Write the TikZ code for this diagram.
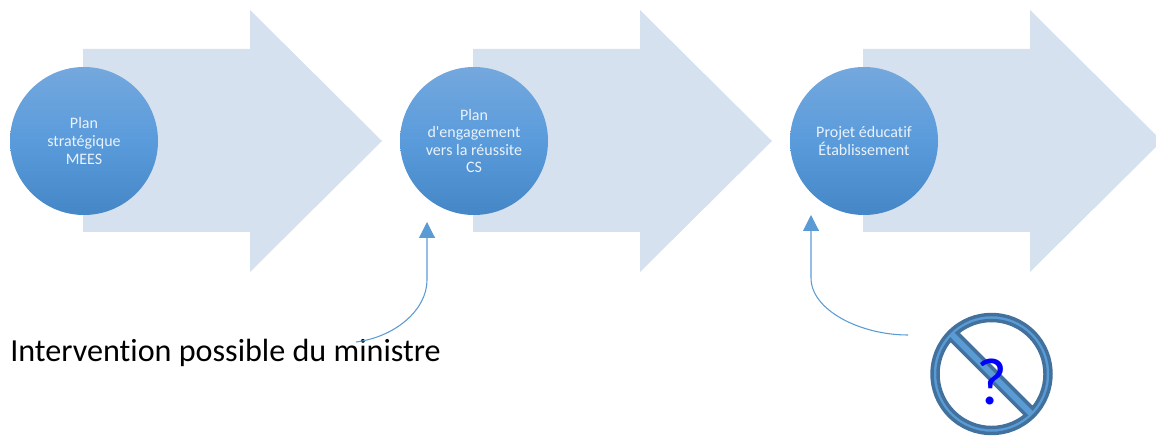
\documentclass[tikz,border=0pt]{standalone}
\usepackage{fontspec}
\setmainfont[Ligatures=CommonOff]{Carlito}
\usetikzlibrary{arrows.meta}
\definecolor{flecheBleu}{HTML}{D5E1EF}
\definecolor{haut}{HTML}{74A8DD}
\definecolor{milieu}{HTML}{5A9BDC}
\definecolor{bas}{HTML}{4486C6}
\definecolor{trait}{HTML}{5B9BD5}
\definecolor{bord}{HTML}{41719C}
\definecolor{texte}{HTML}{EAF2FA}
\tikzset{
  etape/.style={circle,minimum size=111pt,inner sep=0pt,top color=haut,bottom color=bas,middle color=milieu,
    text=texte,font=\fontsize{12}{13.2}\selectfont,align=center},
  lien/.style={trait,line width=0.8pt,-{Triangle[width=12pt,length=12pt]}}
}
\begin{document}
\begin{tikzpicture}[x=0.75pt,y=0.75pt]
    \useasboundingbox (0,0) rectangle (1156,436);
    \clip (0,0) rectangle (1156,436);
    % grandes fleches
    \foreach \d in {0,390,780}
        \fill[flecheBleu,shift={(\d,0)}] (83,387) -- (250,387) -- (250,426) -- (382,295)
            -- (250,164) -- (250,204) -- (83,204) -- cycle;

    \node[etape] (mees) at (84,295) {Plan\\stratégique\\MEES};
    \node[etape] (cs) at (474,295) {Plan\\d\textquotesingle engagement\\vers la réussite\\CS};
    \node[etape] (projet) at (864,295) {Projet éducatif\\Établissement};

    \node[anchor=west,inner sep=0pt,font=\fontsize{24.1}{28}\selectfont] (ministre) at (10,83) {Intervention possible du ministre};

    % fleches courbes
    \coordinate (depart1) at (356,94);
    \coordinate (coude1) at (427,156);
    \coordinate (pointe1) at (427,214);
    \coordinate (depart2) at (908,101);
    \coordinate (coude2) at (811,158);
    \coordinate (pointe2) at (811,221);
    \draw[lien] (depart1) .. controls (395,99) and (427,126) .. (coude1) -- (pointe1);
    \draw[lien] (depart2) .. controls (860,101) and (811,126) .. (coude2) -- (pointe2);

    % symbole interdit
    \begin{scope}[shift={(991.5,62)},rotate=-45]
        \draw[fill=trait,draw=bord,line width=2.6pt,even odd rule] (0,0) circle (59.5)
            (5.15:53.5) arc (5.15:174.85:53.5) -- cycle
            (-5.15:53.5) arc (-5.15:-174.85:53.5) -- cycle;
    \end{scope}
    \node[inner sep=0pt,text=blue,font=\fontsize{50}{54}\selectfont] (question) at (992,54) {?};
\end{tikzpicture}
\end{document}
